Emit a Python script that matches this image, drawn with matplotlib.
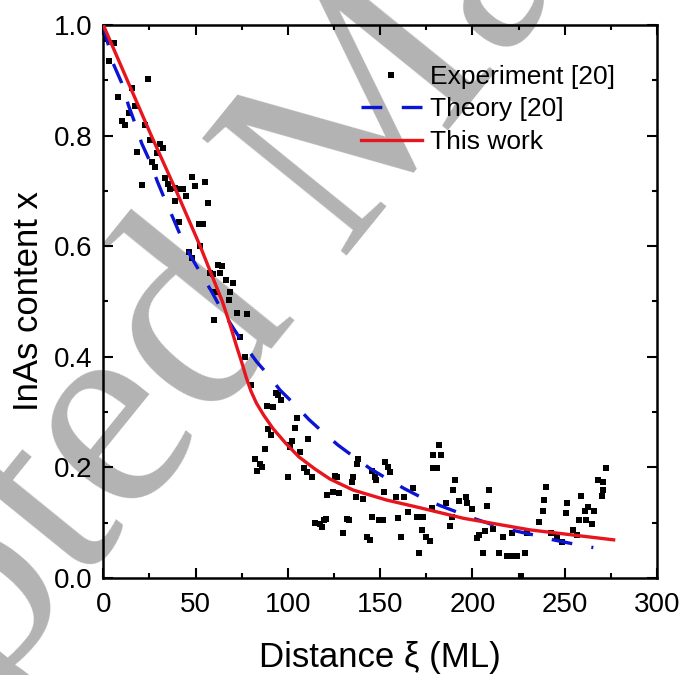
import matplotlib
matplotlib.use('Agg')
import matplotlib.pyplot as plt
from matplotlib.ticker import MultipleLocator, FormatStrFormatter
import numpy as np

plt.rcParams['font.family'] = ['Liberation Sans', 'DejaVu Sans']
plt.rcParams['lines.scale_dashes'] = False

# ---------------- data ----------------
exp_x = [1.0, 3.1, 5.6, 8.1, 10.0, 11.8, 13.8, 15.8, 17.4, 18.5, 20.8, 22.4, 24.4, 25.4, 26.2, 28.0,
         29.3, 30.7, 32.5, 33.4, 35.2, 36.1, 38.8, 38.8, 41.0, 41.6, 43.3, 44.8, 46.6, 47.9, 48.2,
         49.8, 52.0, 52.3, 54.0, 55.1, 56.7, 57.8, 59.6, 60.5, 60.1, 62.3, 63.2, 64.4, 66.5, 68.9,
         68.2, 70.4, 72.3, 74.1, 76.8, 77.8, 79.9, 82.0, 83.3, 84.9, 85.8, 87.4, 88.5, 89.4, 91.0,
         92.2, 93.6, 94.8, 96.4, 99.9, 100.9, 101.4, 102.2, 103.9, 105.0, 106.7, 108.5, 110.2,
         111.0, 113.0, 114.7, 117.4, 118.3, 119.5, 120.8, 121.2, 124.3, 125.6, 126.8, 127.9, 130.1,
         131.9, 133.3, 134.6, 135.4, 136.9, 137.5, 138.2, 140.9, 143.1, 144.5, 145.4, 145.4, 147.2,
         147.8, 149.5, 151.7, 152.1, 152.6, 154.4, 155.3, 158.6, 159.5, 161.1, 163.1, 164.9, 167.6,
         169.8, 171.2, 172.5, 173.1, 174.8, 177.0, 177.9, 178.4, 178.4, 180.9, 181.7, 182.8, 185.8,
         187.8, 188.8, 189.4, 190.4, 192.9, 196.5, 197.2, 199.8, 202.3, 203.7, 205.5, 206.8, 208.0,
         209.1, 211.0, 214.5, 216.7, 218.6, 221.3, 221.6, 224.0, 226.1, 228.3, 229.7, 236.2, 238.0,
         238.7, 239.9, 242.8, 245.7, 248.4, 250.5, 251.0, 254.4, 256.5, 257.9, 258.7, 261.0, 261.5,
         262.8, 264.6, 265.9, 268.2, 270.0, 270.9, 270.9, 272.3]
exp_y = [0.975, 0.934, 0.968, 0.870, 0.826, 0.820, 0.840, 0.886, 0.853, 0.770, 0.711, 0.820, 0.902,
         0.792, 0.753, 0.744, 0.768, 0.785, 0.778, 0.724, 0.712, 0.703, 0.705, 0.682, 0.643, 0.703,
         0.703, 0.691, 0.590, 0.578, 0.726, 0.709, 0.641, 0.600, 0.641, 0.716, 0.679, 0.552, 0.549,
         0.518, 0.466, 0.566, 0.551, 0.565, 0.539, 0.518, 0.502, 0.533, 0.480, 0.435, 0.400, 0.478,
         0.349, 0.216, 0.193, 0.207, 0.200, 0.234, 0.311, 0.269, 0.259, 0.309, 0.335, 0.331, 0.322,
         0.182, 0.240, 0.237, 0.248, 0.272, 0.290, 0.228, 0.199, 0.192, 0.252, 0.183, 0.099, 0.097,
         0.093, 0.105, 0.106, 0.150, 0.155, 0.184, 0.183, 0.153, 0.082, 0.106, 0.104, 0.173, 0.182,
         0.147, 0.206, 0.215, 0.142, 0.074, 0.069, 0.110, 0.193, 0.183, 0.177, 0.105, 0.105, 0.155,
         0.209, 0.201, 0.191, 0.147, 0.108, 0.075, 0.147, 0.119, 0.162, 0.111, 0.046, 0.087, 0.111,
         0.074, 0.067, 0.127, 0.222, 0.199, 0.199, 0.241, 0.222, 0.135, 0.094, 0.111, 0.160, 0.178,
         0.139, 0.147, 0.136, 0.125, 0.073, 0.077, 0.046, 0.085, 0.130, 0.160, 0.088, 0.046, 0.074,
         0.040, 0.040, 0.081, 0.040, 0.004, 0.046, 0.082, 0.102, 0.122, 0.141, 0.165, 0.081, 0.075,
         0.065, 0.118, 0.135, 0.087, 0.078, 0.104, 0.148, 0.122, 0.104, 0.129, 0.098, 0.122, 0.177,
         0.148, 0.174, 0.159, 0.199]

theory_x = [0, 2.7, 5.4, 10.0, 13.6, 17.2, 20.8, 25.3, 29.3, 33.4, 38.3, 42.5, 47.0, 53.3, 58.7,
            64.1, 70.4, 75.9, 83.1, 89.4, 95.7, 103.3, 111.6, 119.2, 127.3, 135.4, 144.5, 153.0,
            162.9, 171.6, 182.4, 200.5, 211.3, 222.1, 233.0, 243.8, 255.6, 265.5]
theory_y = [1.0, 0.964, 0.930, 0.895, 0.855, 0.822, 0.786, 0.753, 0.717, 0.684, 0.647, 0.614, 0.584,
            0.548, 0.518, 0.485, 0.452, 0.424, 0.391, 0.367, 0.340, 0.315, 0.286, 0.263, 0.240,
            0.220, 0.198, 0.181, 0.162, 0.147, 0.131, 0.108, 0.096, 0.086, 0.078, 0.069, 0.061, 0.055]

work_x = [0, 13, 26, 39.5, 52.5, 58.5, 64.5, 68.5, 72.3, 75, 77.5, 80, 83, 87, 92, 99, 106,
          114.7, 122.8, 135.4, 153.5, 171.6, 195.1, 231.2, 276.5]
work_y = [1.0, 0.9, 0.8, 0.7, 0.6, 0.55, 0.5, 0.46, 0.418, 0.39, 0.362, 0.338, 0.316, 0.294, 0.27,
          0.243, 0.219, 0.197, 0.179, 0.159, 0.141, 0.127, 0.108, 0.087, 0.069]

labels = ['Experiment [20]', 'Theory [20]', 'This work']
x_label = 'Distance \u03be (ML)'
y_label = 'InAs content x'
watermark = 'Accepted Manuscript'

# ---------------- figure ----------------
W, H = 683, 675
fig = plt.figure(figsize=(W / 100, H / 100), dpi=100)
ax = fig.add_axes([103.3 / W, 1 - 578 / H, (657 - 103.3) / W, (578 - 25) / H])
ax.patch.set_alpha(0)

# watermark (behind the axes content)
wm_size = 205
em = wm_size * 100 / 72.0
ang_deg = 51
ang = np.deg2rad(ang_deg)
mx, my = 342, 262   # baseline start of "M" in pixels (y down)
off = 4.026 * em
sx, sy = mx - off * np.cos(ang), my + off * np.sin(ang)
fig.text(sx / W, 1 - sy / H, watermark, fontsize=wm_size, family='Liberation Serif',
         color='#b3b3b3', rotation=ang_deg, rotation_mode='anchor', ha='left', va='baseline',
         zorder=-5)

ax.plot(exp_x, exp_y, ls='none', marker='s', ms=5, color='black', mew=0, label=labels[0],
        zorder=3)
ax.plot(theory_x, theory_y, color='#0a14d2', lw=2.4, ls=(0, (15, 14)), label=labels[1], zorder=4)
ax.plot(work_x, work_y, color='#e8141e', lw=2.4, label=labels[2], zorder=5)

ax.set_xlim(0, 300)
ax.set_ylim(0, 1.0)
ax.xaxis.set_major_locator(MultipleLocator(50))
ax.xaxis.set_minor_locator(MultipleLocator(25))
ax.yaxis.set_major_locator(MultipleLocator(0.2))
ax.yaxis.set_minor_locator(MultipleLocator(0.1))
ax.yaxis.set_major_formatter(FormatStrFormatter('%.1f'))
ax.tick_params(which='both', direction='in', top=True, right=True, width=1.5, labelsize=20,
               pad=8)
ax.tick_params(axis='x', which='both', pad=10)
ax.tick_params(which='major', length=7.2)
ax.tick_params(which='minor', length=3.6)
for s in ax.spines.values():
    s.set_linewidth(1.8)

ax.set_xlabel(x_label, fontsize=25, labelpad=17)
ax.set_ylabel(y_label, fontsize=25, labelpad=6)

ax.legend(loc='upper left', bbox_to_anchor=((361 - 103.3) / 553.7, (578 - 65) / 553),
          frameon=False, fontsize=19, handlelength=2.3, handletextpad=0.3, labelspacing=0.32,
          borderpad=0, borderaxespad=0, numpoints=1, markerscale=1.0)

fig.savefig('out.png', dpi=100)
